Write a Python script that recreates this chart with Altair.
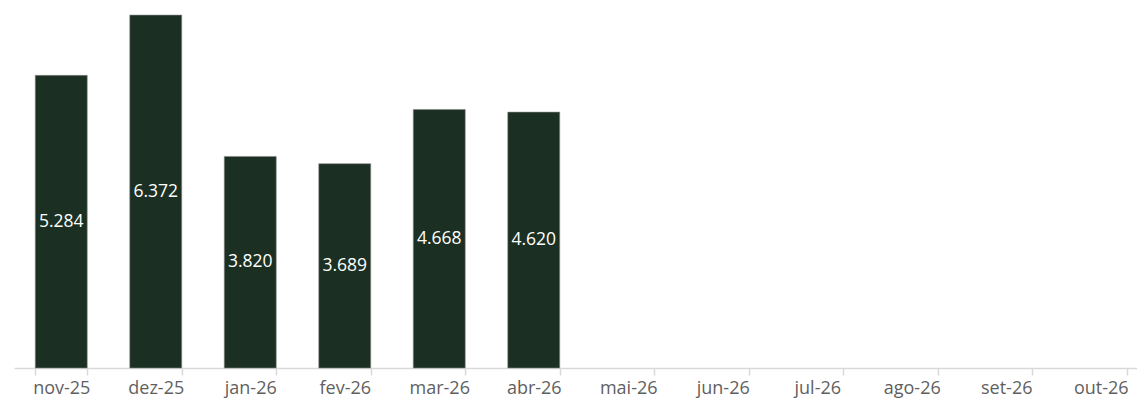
import altair as alt
import pandas as pd

months = ["nov-25", "dez-25", "jan-26", "fev-26", "mar-26", "abr-26",
          "mai-26", "jun-26", "jul-26", "ago-26", "set-26", "out-26"]
values = [5284, 6372, 3820, 3689, 4668, 4620, None, None, None, None, None, None]

labels = [f"{v:,}".replace(",", ".") if v is not None else "" for v in values]
df = pd.DataFrame({"mes": months, "valor": values, "rotulo": labels})

FONT = "Open Sans"

x = alt.X("mes:N", sort=months, title=None,
          scale=alt.Scale(paddingInner=0.45, paddingOuter=0.225, range=[0, 1134]),
          axis=alt.Axis(labelAngle=0, labelFont=FONT, labelFontSize=18,
                        labelColor="#5f5f5f", domainColor="#d9d9d9",
                        tickColor="#d9d9d9", tickSize=7, tickBand="extent",
                        labelPadding=4, domainWidth=1.5, tickWidth=1.5))
y = alt.Y("valor:Q", title=None, scale=alt.Scale(domain=[0, 6500], nice=False),
          axis=None)

bars = alt.Chart(df).mark_bar(color="#1b3022", stroke="#8a8a8a",
                              strokeWidth=0.6).encode(x=x, y=y)
text = alt.Chart(df).mark_text(color="white", font=FONT, fontSize=17.5,
                               baseline="middle").encode(
    x=x, y=alt.Y("mid:Q", scale=alt.Scale(domain=[0, 6500], nice=False), axis=None),
    text="rotulo:N").transform_calculate(mid="datum.valor/2")

chart = (bars + text).properties(
    width=1123, height=360,
    autosize=alt.AutoSizeParams(type="none"),
    padding={"left": 6, "top": 0, "right": 0, "bottom": 30}
).configure_view(stroke=None)

chart.save("out.html", embed_options={"renderer": "svg", "actions": False})
